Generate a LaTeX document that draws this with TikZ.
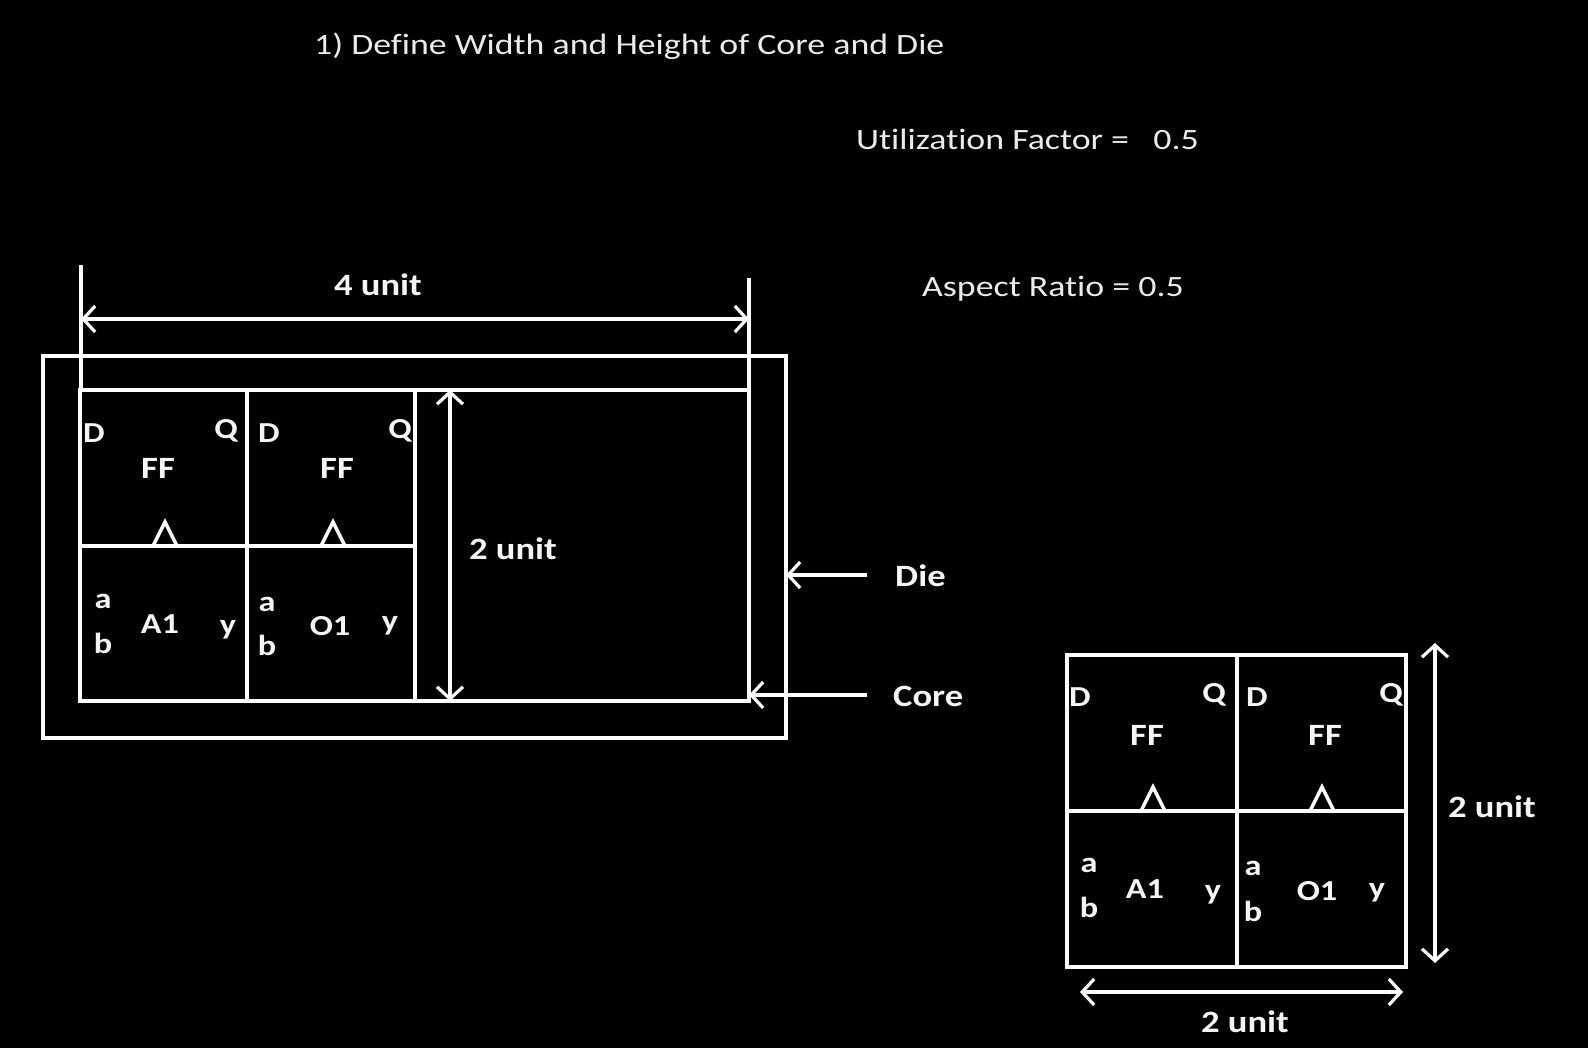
\documentclass[tikz,border=0pt]{standalone}
\usepackage{graphicx}
\usepackage{fontspec}
\setmainfont{Carlito}[Ligatures=NoCommon]
\usetikzlibrary{arrows.meta}
\newcommand{\hs}[1]{\scalebox{1.18}[1]{#1}}
\newcommand{\hst}[1]{\scalebox{1.215}[1]{#1}}
\begin{document}
\begin{tikzpicture}[x=1pt,y=-1pt,
  ln/.style={draw=white, line width=4pt},
  tipb/.tip={Straight Barb[length=12pt,width=26pt,line width=3.2pt]},
  dim/.style={ln, line width=3.6pt, tipb-tipb},
  ptr/.style={ln, line width=3.6pt, -tipb},
  box/.style={ln, rectangle, inner sep=0pt, outer sep=0pt},
  lbl/.style={text=white!96!black, font=\fontsize{31}{36}\selectfont\bfseries, inner sep=0pt},
  pin/.style={text=white!96!black, font=\fontsize{29}{34}\selectfont\bfseries, inner sep=0pt},
  hdr/.style={text=white!92!black, font=\fontsize{29.5}{36}\selectfont, inner sep=0pt, anchor=west},
  tri/.style={ln, line width=3.4pt, line join=miter}
]
\fill[black] (0,0) rectangle (1588,1048);
\useasboundingbox (0,0) rectangle (1588,1048);

% headings
\node[hdr] (title) at (314,46) {\hst{1) Define Width and Height of Core and Die}};
\node[hdr] (util) at (856,139) {\hst{Utilization Factor =\ \ \ 0.5}};
\node[hdr] (aspect) at (922,289) {\hst{Aspect Ratio = 0.5}};

% die and core
\node[box, minimum width=743pt, minimum height=382pt] (die) at (414.5,547) {};
\node[box, minimum width=669pt, minimum height=311pt] (core) at (414.5,545.5) {};

% cells in core
\node[box, minimum width=167pt, minimum height=156pt] (ff1) at (163.5,468) {};
\node[box, minimum width=168pt, minimum height=156pt] (ff2) at (331,468) {};
\node[box, minimum width=167pt, minimum height=155pt] (a1) at (163.5,623.5) {};
\node[box, minimum width=168pt, minimum height=155pt] (o1) at (331,623.5) {};

% clock triangles
\draw[tri] (153,546) -- (165,522) -- (177,546);
\draw[tri] (321,546) -- (333,522) -- (345,546);

% pin labels, left block
\node[pin, anchor=west] (d1) at (83,433) {\hs{D}};
\node[pin] (q1) at (226,431) {\hs{Q}};
\node[lbl] (fft1) at (158,468) {\hs{FF}};
\node[pin, anchor=west] (d2) at (258,433) {\hs{D}};
\node[pin] (q2) at (400,431) {\hs{Q}};
\node[lbl] (fft2) at (337,468) {\hs{FF}};
\node[pin] (a1a) at (103,601) {\hs{a}};
\node[pin] (a1b) at (103,643) {\hs{b}};
\node[pin] (a1t) at (160,624) {\hs{A1}};
\node[pin] (a1y) at (228,630) {\hs{y}};
\node[pin] (o1a) at (267,604) {\hs{a}};
\node[pin] (o1b) at (267,645) {\hs{b}};
\node[pin] (o1t) at (330,626) {\hs{O1}};
\node[pin] (o1y) at (390,626) {\hs{y}};

% extension lines and dimensions
\coordinate (extL) at (81,265);
\coordinate (extR) at (749,278);
\draw[ln] (extL) -- (extL |- core.north);
\draw[ln] (extR) -- (extR |- core.north);
\coordinate (wL) at (81,319);
\coordinate (wR) at (749,319);
\draw[dim] (wL) -- (wR);
\node[lbl] (w4) at (378,285) {\hs{4 unit}};
\coordinate (hx) at (450,0);
\draw[dim] (hx |- core.north) -- (hx |- core.south);
\node[lbl] (h2) at (513,549) {\hs{2 unit}};

% die / core pointers
\node[lbl, anchor=west] (dielbl) at (895,576) {\hs{Die}};
\node[lbl, anchor=west] (corelbl) at (893,696) {\hs{Core}};
\coordinate (dieS) at (867,575);
\coordinate (coreS) at (867,695);
\draw[ptr] (dieS) -- (die.east |- dieS);
\draw[ptr] (coreS) -- (core.east |- coreS);

% right block
\node[box, minimum width=170pt, minimum height=156pt] (rff1) at (1152,733) {};
\node[box, minimum width=169pt, minimum height=156pt] (rff2) at (1321.5,733) {};
\node[box, minimum width=170pt, minimum height=156pt] (ra1) at (1152,889) {};
\node[box, minimum width=169pt, minimum height=156pt] (ro1) at (1321.5,889) {};
\draw[tri] (1141,811) -- (1153,787) -- (1165,811);
\draw[tri] (1310,811) -- (1322,787) -- (1334,811);

\node[pin, anchor=west] (rd1) at (1069,697) {\hs{D}};
\node[pin] (rq1) at (1214,695) {\hs{Q}};
\node[lbl] (rfft1) at (1147,735) {\hs{FF}};
\node[pin, anchor=west] (rd2) at (1246,697) {\hs{D}};
\node[pin] (rq2) at (1391,695) {\hs{Q}};
\node[lbl] (rfft2) at (1325,735) {\hs{FF}};
\node[pin] (ra1a) at (1089,865) {\hs{a}};
\node[pin] (ra1b) at (1089,907) {\hs{b}};
\node[pin] (ra1t) at (1145,889) {\hs{A1}};
\node[pin] (ra1y) at (1213,895) {\hs{y}};
\node[pin] (ro1a) at (1253,868) {\hs{a}};
\node[pin] (ro1b) at (1253,911) {\hs{b}};
\node[pin] (ro1t) at (1317,891) {\hs{O1}};
\node[pin] (ro1y) at (1377,893) {\hs{y}};

\coordinate (rvT) at (1435,643);
\coordinate (rvB) at (1435,963);
\draw[dim] (rvT) -- (rvB);
\node[lbl] (rh2) at (1492,807) {\hs{2 unit}};
\coordinate (rhL) at (1080,992);
\coordinate (rhR) at (1403,992);
\draw[dim] (rhL) -- (rhR);
\node[lbl] (rw2) at (1245,1022) {\hs{2 unit}};
\end{tikzpicture}
\end{document}
